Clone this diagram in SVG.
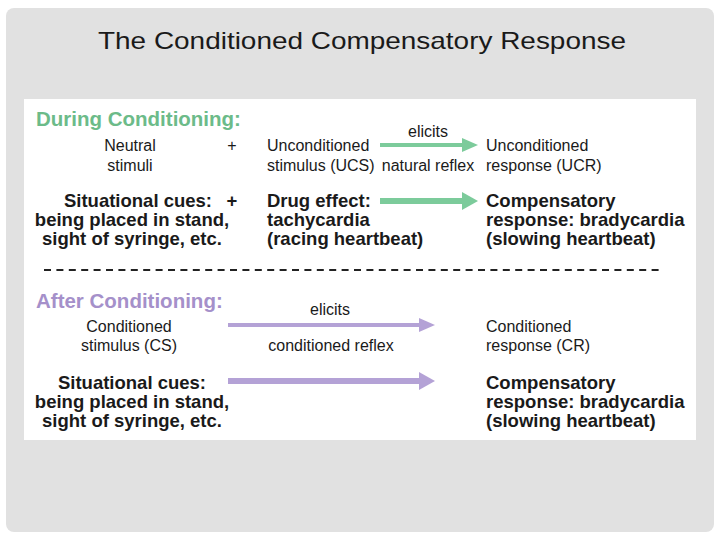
<svg xmlns="http://www.w3.org/2000/svg" width="720" height="540" viewBox="0 0 720 540">
<style>
  .t { font-family: "Liberation Sans", Arial, sans-serif; fill: #1a1a1a; }
  .r { font-size: 16px; }
  .b { font-size: 18.5px; font-weight: bold; }
  .h { font-size: 20.5px; font-weight: bold; }
  .m { text-anchor: middle; }
  .g { fill: #6cbb89; }
  .p { fill: #a590ca; }
  .ga { stroke: #7ccb9b; fill: none; }
  .pa { stroke: #b4a2d6; fill: none; }
</style>
<defs>
  <marker id="hg1" markerUnits="userSpaceOnUse" viewBox="0 0 16 14" markerWidth="16" markerHeight="14" refX="2" refY="7" orient="auto"><path d="M0,0 L16,7 L0,14 z" fill="#7ccb9b"/></marker>
  <marker id="hg2" markerUnits="userSpaceOnUse" viewBox="0 0 16 18" markerWidth="16" markerHeight="18" refX="2" refY="9" orient="auto"><path d="M0,0 L16,9 L0,18 z" fill="#7ccb9b"/></marker>
  <marker id="hp1" markerUnits="userSpaceOnUse" viewBox="0 0 16 14" markerWidth="16" markerHeight="14" refX="2" refY="7" orient="auto"><path d="M0,0 L16,7 L0,14 z" fill="#b4a2d6"/></marker>
  <marker id="hp2" markerUnits="userSpaceOnUse" viewBox="0 0 16 18" markerWidth="16" markerHeight="18" refX="2" refY="9" orient="auto"><path d="M0,0 L16,9 L0,18 z" fill="#b4a2d6"/></marker>
</defs>
<rect x="0" y="0" width="720" height="540" fill="#ffffff"/>
<rect x="6" y="8" width="708" height="524" rx="8" fill="#e1e1e1"/>
<text class="t" x="362" y="49" font-size="24" text-anchor="middle" textLength="528" lengthAdjust="spacingAndGlyphs">The Conditioned Compensatory Response</text>
<rect x="24" y="99" width="672" height="341" fill="#ffffff"/>

<g id="header-during"><text class="t h g" x="36" y="126">During Conditioning:</text></g>

<g id="neutral-stimuli">
  <text class="t r m" x="130" y="151">Neutral</text>
  <text class="t r m" x="130" y="171">stimuli</text>
  <text class="t r m" x="232" y="151">+</text>
</g>
<g id="ucs">
  <text class="t r" x="267" y="151">Unconditioned</text>
  <text class="t r" x="267" y="171">stimulus (UCS)</text>
</g>
<g id="ucr">
  <text class="t r" x="486" y="151">Unconditioned</text>
  <text class="t r" x="486" y="171">response (UCR)</text>
</g>

<g id="cues-1">
  <text class="t b m" x="138" y="207">Situational cues:</text>
  <text class="t b m" x="232" y="207">+</text>
  <text class="t b m" x="132" y="226">being placed in stand,</text>
  <text class="t b m" x="132" y="245">sight of syringe, etc.</text>
</g>
<g id="drug-effect">
  <text class="t b" x="267" y="207">Drug effect:</text>
  <text class="t b" x="267" y="226">tachycardia</text>
  <text class="t b" x="267" y="245">(racing heartbeat)</text>
</g>
<g id="comp-1">
  <text class="t b" x="486" y="207">Compensatory</text>
  <text class="t b" x="486" y="226">response: bradycardia</text>
  <text class="t b" x="486" y="245">(slowing heartbeat)</text>
</g>

<line x1="44" y1="270" x2="664" y2="270" stroke="#222" stroke-width="2" stroke-dasharray="7 5.4"/>

<g id="header-after"><text class="t h p" x="36" y="308">After Conditioning:</text></g>

<g id="cs">
  <text class="t r m" x="129" y="332">Conditioned</text>
  <text class="t r m" x="129" y="351">stimulus (CS)</text>
</g>
<g id="cr">
  <text class="t r" x="486" y="332">Conditioned</text>
  <text class="t r" x="486" y="351">response (CR)</text>
</g>
<g id="cues-2">
  <text class="t b m" x="132" y="389">Situational cues:</text>
  <text class="t b m" x="132" y="408">being placed in stand,</text>
  <text class="t b m" x="132" y="427">sight of syringe, etc.</text>
</g>
<g id="comp-2">
  <text class="t b" x="486" y="389">Compensatory</text>
  <text class="t b" x="486" y="408">response: bradycardia</text>
  <text class="t b" x="486" y="427">(slowing heartbeat)</text>
</g>

<g id="connectors">
  <line class="ga" x1="380" y1="145" x2="464" y2="145" stroke-width="4" marker-end="url(#hg1)"/>
  <text class="t r m" x="428" y="137">elicits</text>
  <text class="t r m" x="428" y="171">natural reflex</text>
  <line class="ga" x1="380" y1="201" x2="464" y2="201" stroke-width="6" marker-end="url(#hg2)"/>
  <line class="pa" x1="228" y1="325" x2="421" y2="325" stroke-width="4" marker-end="url(#hp1)"/>
  <text class="t r m" x="330" y="315">elicits</text>
  <text class="t r m" x="331" y="351">conditioned reflex</text>
  <line class="pa" x1="228" y1="381" x2="421" y2="381" stroke-width="6" marker-end="url(#hp2)"/>
</g>
</svg>
